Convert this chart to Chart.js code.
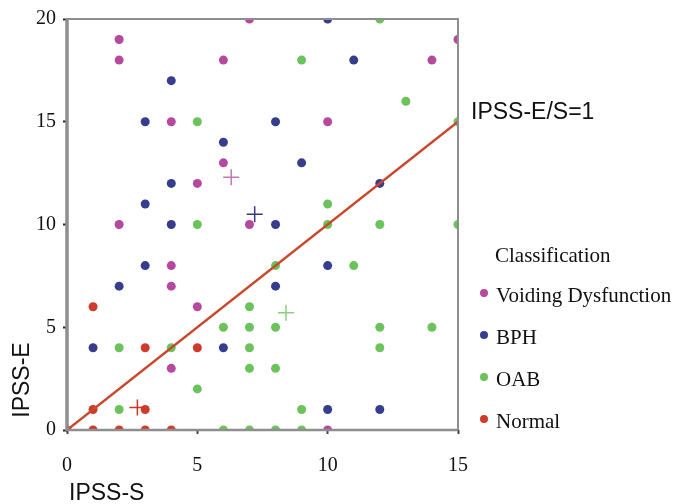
<!DOCTYPE html>
<html>
<head>
<meta charset="utf-8">
<script src="https://cdn.jsdelivr.net/npm/chart.js@4/dist/chart.umd.min.js"></script>
<style>
html,body{margin:0;padding:0;background:#fff;}
#wrap{width:675px;height:504px;position:relative;}
</style>
</head>
<body>
<div id="wrap"><canvas id="c" width="675" height="504"></canvas></div>
<script>
// ---- data ----
const classNames = ["Voiding Dysfunction", "BPH", "OAB", "Normal"];
const vdX = [2, 2, 6, 4, 6, 5, 2, 7, 15, 14, 10, 7, 4, 4, 5, 4, 10];
const vdY = [19, 18, 18, 15, 13, 12, 10, 20, 19, 18, 15, 10, 8, 7, 6, 3, 0];
const bphX = [4, 3, 6, 4, 3, 4, 10, 11, 8, 9, 12, 8, 10, 8, 6, 10, 12, 3, 2, 1];
const bphY = [17, 15, 14, 12, 11, 10, 20, 18, 15, 13, 12, 10, 8, 7, 4, 1, 1, 8, 7, 4];
const oabX = [5, 5, 12, 9, 13, 15, 10, 10, 12, 15, 11, 8, 7, 6, 7, 8, 12, 14, 7, 12, 7, 8, 9, 6, 7, 8, 9, 2, 4, 5, 2];
const oabY = [15, 10, 20, 18, 16, 15, 11, 10, 10, 10, 8, 8, 6, 5, 5, 5, 5, 5, 4, 4, 3, 3, 1, 0, 0, 0, 0, 4, 4, 2, 1];
const normX = [1, 3, 5, 1, 3, 0, 1, 2, 3, 4];
const normY = [6, 4, 4, 1, 1, 0, 0, 0, 0, 0];
// group means (cross markers)
const meanX = [6.3, 7.2, 8.4, 2.7];
const meanY = [12.3, 10.5, 5.7, 1.1];
// reference line IPSS-E/S = 1
const refLineX = [0, 15];
const refLineY = [0, 15];
const xTicks = [0, 5, 10, 15];
const yTicks = [0, 5, 10, 15, 20];

const dotColors = ["#b4499e", "#353d8c", "#6cc35c", "#cf3a2a"];
const crossColors = ["#c27ab6", "#3a3482", "#86d27a", "#c8362a"];

const pts = (xs, ys) => xs.map((x, i) => ({x: x, y: ys[i]}));
const groups = [[vdX, vdY], [bphX, bphY], [oabX, oabY], [normX, normY]];

const datasets = [];
datasets.push({
  type: 'scatter', label: 'IPSS-E/S=1', data: pts(refLineX, refLineY),
  showLine: true, borderColor: '#c8482c', borderWidth: 2.5, pointRadius: 0,
  order: 0, clip: 0
});
groups.forEach((g, i) => {
  datasets.push({
    type: 'scatter', label: classNames[i], data: pts(g[0], g[1]),
    backgroundColor: dotColors[i], borderColor: dotColors[i], borderWidth: 0,
    pointRadius: 4.5, pointHoverRadius: 4.5, order: 1, clip: 0
  });
});
classNames.forEach((n, i) => {
  datasets.push({
    type: 'scatter', label: n + ' mean', data: [{x: meanX[i], y: meanY[i]}],
    pointStyle: 'cross', pointRadius: 8, borderColor: crossColors[i], borderWidth: 1.5,
    backgroundColor: crossColors[i], order: 1, clip: 0
  });
});

const framePlugin = {
  id: 'frame',
  afterDatasetsDraw(chart) {
    const a = chart.chartArea, ctx = chart.ctx;
    ctx.save();
    ctx.strokeStyle = '#8e8e8e';
    ctx.lineWidth = 2;
    ctx.beginPath();
    ctx.moveTo(a.left, a.top); ctx.lineTo(a.right, a.top); ctx.lineTo(a.right, a.bottom);
    ctx.stroke();
    ctx.lineWidth = 2.5;
    ctx.beginPath();
    ctx.moveTo(a.left, a.bottom); ctx.lineTo(a.right, a.bottom);
    ctx.stroke();
    ctx.lineWidth = 3.5;
    ctx.beginPath();
    ctx.moveTo(a.left, a.top - 1); ctx.lineTo(a.left, a.bottom + 1);
    ctx.stroke();
    ctx.restore();
  },
  afterDraw(chart) {
    const ctx = chart.ctx;
    ctx.save();
    ctx.fillStyle = '#111';
    // line label
    ctx.font = '23px "Liberation Sans", Arial, sans-serif';
    ctx.textAlign = 'left'; ctx.textBaseline = 'middle';
    ctx.fillText('IPSS-E/S=1', 471, 113);
    // axis titles
    ctx.fillText('IPSS-S', 69, 494);
    ctx.save();
    ctx.translate(23, 380);
    ctx.rotate(-Math.PI / 2);
    ctx.textAlign = 'center';
    ctx.fillText('IPSS-E', 0, 0);
    ctx.restore();
    // legend
    ctx.font = '21px "Liberation Serif", "Times New Roman", serif';
    ctx.fillText('Classification', 495, 256);
    classNames.forEach((n, i) => {
      const y = 296 + i * 42;
      ctx.fillStyle = dotColors[i];
      ctx.beginPath(); ctx.arc(484, y - 3, 4, 0, Math.PI * 2); ctx.fill();
      ctx.fillStyle = '#111';
      ctx.fillText(n, 496, y);
    });
    ctx.restore();
  }
};

new Chart(document.getElementById('c'), {
  type: 'scatter',
  data: {datasets: datasets},
  options: {
    responsive: false, animation: false,
    layout: {padding: {top: 17, right: 217, left: 0, bottom: 0}},
    plugins: {legend: {display: false}, tooltip: {enabled: false}},
    scales: {
      x: {
        type: 'linear', min: 0, max: 15,
        afterBuildTicks: s => { s.ticks = xTicks.map(v => ({value: v})); },
        afterFit: s => { s.height = 74; },
        ticks: {font: {family: '"Liberation Serif", "Times New Roman", serif', size: 20}, color: '#111', padding: 20, maxRotation: 0},
        grid: {drawOnChartArea: false, tickLength: 4, tickColor: '#444', tickWidth: 2},
        border: {display: false}
      },
      y: {
        type: 'linear', min: 0, max: 20,
        afterBuildTicks: s => { s.ticks = yTicks.map(v => ({value: v})); },
        afterFit: s => { s.width = 67; },
        ticks: {font: {family: '"Liberation Serif", "Times New Roman", serif', size: 20}, color: '#111', padding: 7},
        grid: {drawOnChartArea: false, tickLength: 4, tickColor: '#222', tickWidth: 2},
        border: {display: false}
      }
    }
  },
  plugins: [framePlugin]
});
</script>
</body>
</html>
